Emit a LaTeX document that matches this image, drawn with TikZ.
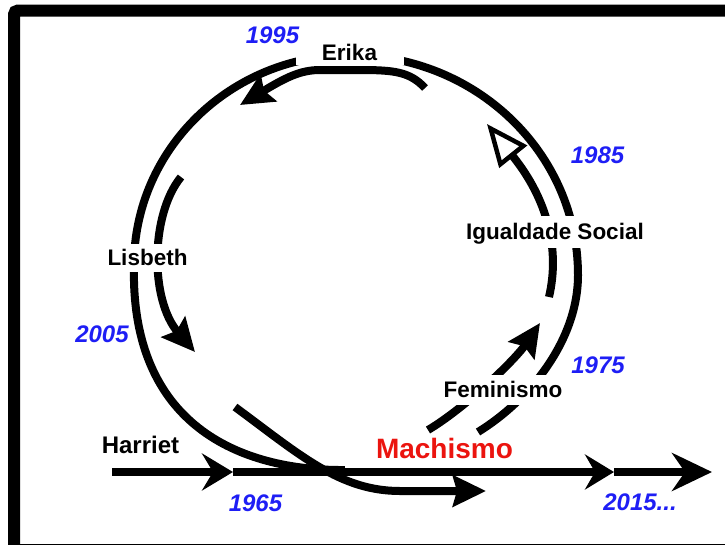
\documentclass[tikz,border=0pt]{standalone}
\usepackage{fontspec}
\setmainfont{Liberation Sans}
\usetikzlibrary{arrows.meta}
\definecolor{yearblue}{RGB}{30,30,245}
\definecolor{machred}{RGB}{235,20,15}
\begin{document}
\begin{tikzpicture}[x=1pt,y=-1pt,line width=8pt,
  lbl/.style={font=\bfseries\fontsize{22.5}{26}\selectfont,text height=16.1pt,text depth=0pt,inner sep=0pt},
  mask/.style={lbl,fill=white},
  year/.style={font=\bfseries\itshape\fontsize{24}{28}\selectfont,text=yearblue,text height=17.2pt,text depth=0pt,inner sep=0pt},
  solidtip/.style={-{Stealth[length=33pt,width=31pt,inset=5pt]}}]
\useasboundingbox (0,0) rectangle (725,544);
% frame
\draw[line width=12pt,rounded corners=4pt] (14,10.5) rectangle (731,550);
% main time line
\coordinate (hs) at (112,472);
\coordinate (h1) at (233,472);
\coordinate (h2) at (614,472);
\coordinate (h3) at (712,472);
\draw[-{Stealth[length=31pt,width=37pt,inset=11pt]}] (hs) -- (h1);
\draw[-{Stealth[length=29pt,width=35pt,inset=10pt]}] (h1) -- (h2);
\draw[-{Stealth[length=40pt,width=38pt,inset=13pt]}] (h2) -- (h3);
% outer loop
\coordinate (om) at (345,470);
\coordinate (ol) at (134,265);
\coordinate (ot) at (350,55);
\coordinate (or) at (578,275);
\coordinate (oe) at (478,432);
\draw (om) .. controls (240,471) and (130,425) .. (ol)
  .. controls (134,149) and (231,55) .. (ot)
  .. controls (476,55) and (578,153) .. (or)
  .. controls (578,340) and (530,400) .. (oe);
% inner spiral
\coordinate (fs) at (428,430);
\coordinate (ft) at (540,323);
\draw[solidtip] (fs) .. controls (465,408) and (515,360) .. (ft);
\coordinate (is) at (549,297);
\coordinate (it) at (487,124);
\draw[-{Triangle[open,fill=white,length=42pt,width=35pt,line width=4.5pt]}] (is) .. controls (560,250) and (548,200) .. (it);
\coordinate (es) at (425,88);
\coordinate (em) at (360,70);
\coordinate (en) at (320,70);
\coordinate (et) at (240,105);
\draw[solidtip] (es) .. controls (410,72) and (395,70) .. (em) -- (en) .. controls (300,70) and (285,78) .. (et);
\coordinate (ls) at (181,177);
\coordinate (lt) at (195,352);
\draw[solidtip] (ls) .. controls (150,215) and (150,300) .. (lt);
\coordinate (cs) at (235,407);
\coordinate (cm) at (400,491);
\coordinate (ct) at (486,491);
\draw[-{Stealth[length=33pt,width=31pt,inset=4pt]}] (cs) .. controls (300,455) and (340,491) .. (cm) -- (ct);
% labels
\node[mask,minimum width=108pt,minimum height=25pt] (erika) at (349.5,52.5) {Erika};
\node[mask,minimum width=92pt,minimum height=28pt] (lisbeth) at (147.5,257.5) {Lisbeth};
\node[mask,minimum width=200pt,minimum height=32pt] (igual) at (555,231.5) {Igualdade Social};
\node[mask,minimum width=135pt,minimum height=30pt] (femin) at (503,389.5) {Feminismo};
\node[lbl,font=\bfseries\fontsize{24}{28}\selectfont,text height=17.2pt] (harriet) at (140.5,444.5) {Harriet};
\node[font=\bfseries\fontsize{28}{33}\selectfont,text=machred,anchor=base west,inner sep=0pt] (mach) at (372,458) {Machismo};
% years
\node[year] (y1995) at (272.5,35) {1995};
\node[year] (y1985) at (597.5,154.5) {1985};
\node[year] (y1975) at (598,364.5) {1975};
\node[year] (y2005) at (102,334) {2005};
\node[year] (y1965) at (255.5,503) {1965};
\node[year] (y2015) at (640,501.5) {2015...};
\end{tikzpicture}
\end{document}
